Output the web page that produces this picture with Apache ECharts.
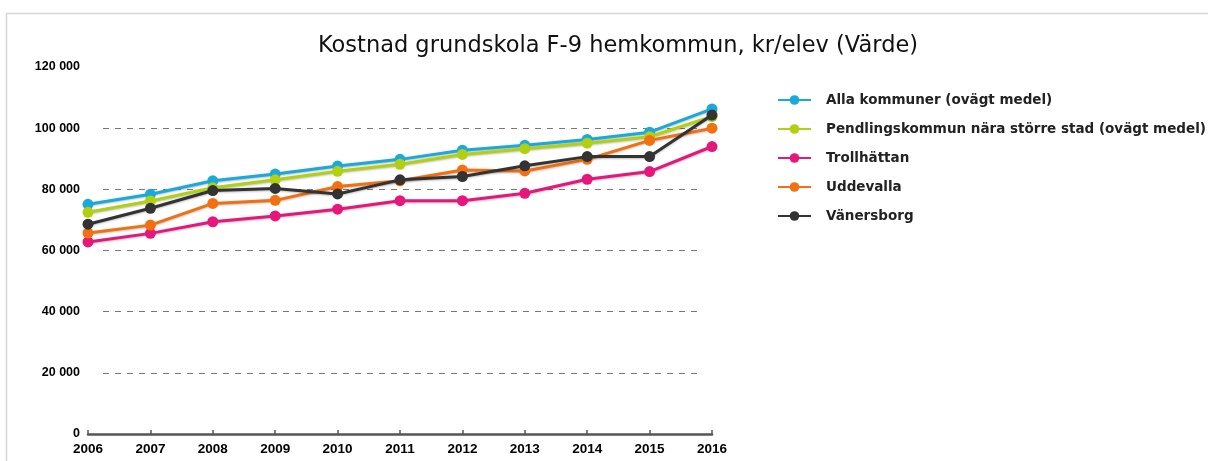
<!DOCTYPE html>
<html>
<head>
<meta charset="utf-8">
<script src="https://cdn.jsdelivr.net/npm/echarts@6/dist/echarts.min.js"></script>
<style>
  html, body { margin: 0; padding: 0; background: #fff; }
  #chart { width: 1208px; height: 461px; }
</style>
</head>
<body>
<div id="chart"></div>
<script>
// Years on the x axis
const years = ['2006', '2007', '2008', '2009', '2010', '2011', '2012', '2013', '2014', '2015', '2016'];

// Cost per pupil (kr/elev), compulsory school F-9, home municipality
const allaKommuner  = [75100, 78400, 82800, 85000, 87600, 89800, 92800, 94400, 96300, 98700, 106300];
const pendling      = [72500, 76200, 80500, 83100, 85900, 88200, 91400, 93300, 95100, 97200, 103800];
const trollhattan   = [62800, 65600, 69400, 71300, 73500, 76300, 76300, 78700, 83300, 85800, 94000];
const uddevalla     = [65700, 68300, 75400, 76400, 80900, 82800, 86300, 86000, 89800, 96000, 100000];
const vanersborg    = [68600, 73800, 79600, 80300, 78500, 83100, 84200, 87700, 90700, 90700, 104300];

const seriesNames = [
  'Alla kommuner (ovägt medel)',
  'Pendlingskommun nära större stad (ovägt medel)',
  'Trollhättan',
  'Uddevalla',
  'Vänersborg'
];
const seriesColors = ['#1aa9dd', '#b3cf12', '#e5177b', '#f26f12', '#333333'];
const seriesData = [allaKommuner, pendling, trollhattan, uddevalla, vanersborg];

const yMin = 0, yMax = 120000, yStep = 20000;
const FONT = 'DejaVu Sans';
const AXIS_FONT = 'Liberation Sans';

function fmt(v) {
  return String(v).replace(/\B(?=(\d{3})+(?!\d))/g, ' ');
}

const chart = echarts.init(document.getElementById('chart'), null, { renderer: 'canvas' });

const lineSeries = seriesNames.map((name, i) => ({
  name: name,
  type: 'line',
  xAxisIndex: 0,
  yAxisIndex: 0,
  data: seriesData[i],
  symbol: 'circle',
  symbolSize: 11,
  z: 10 + i,
  lineStyle: {
    width: 3,
    color: seriesColors[i],
    shadowColor: 'rgba(0,0,0,0.25)',
    shadowBlur: 2,
    shadowOffsetY: 1
  },
  itemStyle: { color: seriesColors[i] },
  emphasis: { disabled: true },
  animation: false
}));

chart.setOption({
  backgroundColor: '#ffffff',
  animation: false,
  title: {
    text: 'Kostnad grundskola F-9 hemkommun, kr/elev (Värde)',
    left: 613,
    textAlign: 'center',
    top: 30,
    textStyle: { fontFamily: FONT, fontSize: 22.5, fontWeight: 'normal', color: '#111' }
  },
  graphic: [{
    type: 'rect',
    shape: { x: 6.5, y: 13.5, width: 1400, height: 600 },
    style: { fill: 'none', stroke: '#d6d6d6', lineWidth: 1.5 },
    silent: true,
    z: -1
  }],
  legend: {
    orient: 'vertical',
    left: 772,
    top: 88,
    itemWidth: 33,
    itemHeight: 12,
    itemGap: 15,
    data: seriesNames,
    textStyle: { fontFamily: FONT, fontSize: 13.5, fontWeight: 'bold', color: '#222', padding: [0, 0, 0, 10] },
    selectedMode: false
  },
  grid: [
    { left: 88, right: 496, top: 67, height: 367, containLabel: false },
    { left: 103, right: 509, top: 67, height: 367, containLabel: false }
  ],
  xAxis: [{
    type: 'category',
    gridIndex: 0,
    data: years,
    boundaryGap: false,
    axisLine: { show: true, lineStyle: { color: '#555', width: 2.5 } },
    axisTick: { show: true, inside: true, length: 4, alignWithLabel: true, lineStyle: { color: '#555', width: 1.5 } },
    axisLabel: { fontFamily: AXIS_FONT, fontSize: 13.5, fontWeight: 'bold', color: '#000', margin: 8 },
    splitLine: { show: false }
  }, {
    type: 'category',
    gridIndex: 1,
    data: years,
    show: false
  }],
  yAxis: [{
    type: 'value',
    gridIndex: 0,
    min: yMin, max: yMax, interval: yStep,
    axisLine: { show: false },
    axisTick: { show: false },
    splitLine: { show: false },
    axisLabel: {
      fontFamily: AXIS_FONT, fontSize: 12.5, fontWeight: 'bold', color: '#000', margin: 8,
      formatter: fmt
    }
  }, {
    // dashed gridlines, drawn slightly inset from the plot edges
    type: 'value',
    gridIndex: 1,
    min: yMin, max: yMax, interval: yStep,
    axisLine: { show: false },
    axisTick: { show: false },
    axisLabel: { show: false },
    splitLine: {
      show: true,
      showMinLine: false,
      showMaxLine: false,
      lineStyle: { color: '#7a7a7a', width: 1, type: [6, 6] }
    }
  }],
  series: lineSeries
});
</script>
</body>
</html>
